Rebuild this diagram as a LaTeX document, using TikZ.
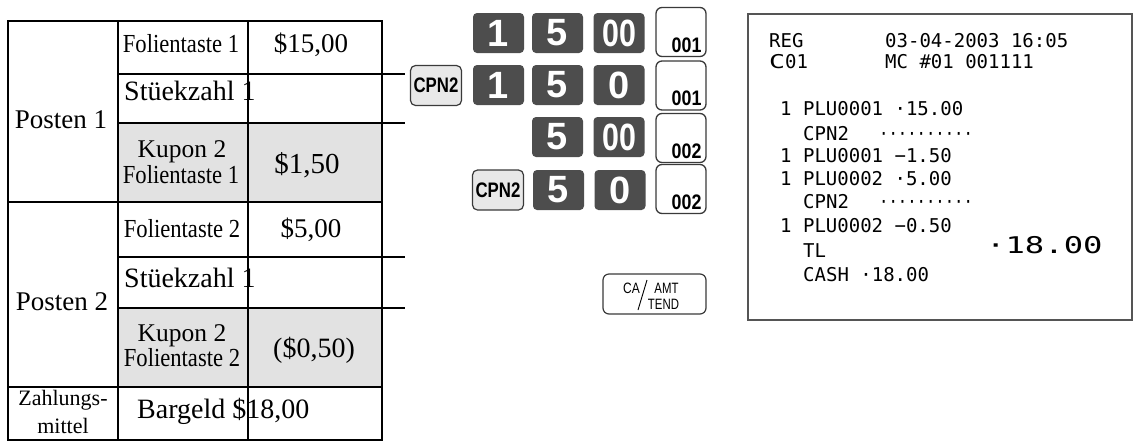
\documentclass[tikz,border=0pt]{standalone}
\usepackage{fontspec}
\setmainfont{Liberation Serif}
\newfontfamily\condserif{Liberation Serif}[FakeStretch=0.87]
\newfontfamily\keyfont{Liberation Sans}
\newfontfamily\rcptfont{DejaVu Sans Mono}
\newfontfamily\widefont{DejaVu Sans Mono}[FakeStretch=1.4]
\newcommand\fsz[1]{\fontsize{#1}{#1}\selectfont}
\definecolor{keydark}{HTML}{4D4D4D}
\definecolor{cpngray}{HTML}{E8E8E8}
\definecolor{cellgray}{HTML}{E2E2E2}
\definecolor{keyline}{HTML}{3A3A3A}
\definecolor{rgray}{HTML}{555555}
\begin{document}
\begin{tikzpicture}[x=1pt,y=-1pt,
  tab/.style={line width=1.3pt},
  outer/.style={line width=2pt},
  cell/.style={inner sep=0pt, anchor=base},
  digitkey/.style={fill=keydark, rounded corners=4pt, minimum width=51pt, minimum height=40pt, inner sep=0pt, text=white, font=\keyfont\bfseries\fsz{38}},
  cpnkey/.style={fill=cpngray, draw=keyline, line width=1.2pt, rounded corners=5pt, minimum width=51pt, minimum height=40pt, inner sep=0pt, font=\keyfont\bfseries\fsz{21}},
  slip/.style={draw=keyline, line width=1.3pt, rounded corners=6pt, minimum width=50pt, minimum height=49pt, inner sep=0pt, fill=white},
  slipno/.style={anchor=base east, inner sep=0pt, xshift=-5pt, yshift=5pt, font=\keyfont\bfseries\fsz{21}},
  catext/.style={anchor=base, inner sep=0pt, font=\keyfont\fsz{15}},
  rc/.style={anchor=base west, inner sep=0pt, font=\rcptfont\fsz{19}}
]
\useasboundingbox (0,0) rectangle (1134,445);
% ---------- table ----------
\fill[cellgray] (118,123) rectangle (382,202);
\fill[cellgray] (118,308) rectangle (382,387);
\draw[tab] (118,21) -- (118,440);
\draw[tab] (248,21) -- (248,440);
\coordinate (e1) at (405,74);
\coordinate (e2) at (405,123);
\coordinate (e3) at (405,257);
\coordinate (e4) at (405,308);
\draw[tab] (118,74) -- (e1);
\draw[tab] (118,123) -- (e2);
\draw[tab] (8,202) -- (382,202);
\draw[tab] (118,257) -- (e3);
\draw[tab] (118,308) -- (e4);
\draw[tab] (8,387) -- (382,387);
\draw[outer] (8,21) rectangle (382,440);

\node[cell, font=\fsz{27}] (p1) at (61,128) {Posten 1};
\node[cell, font=\condserif\fsz{26}] (f1) at (181,52) {Folientaste 1};
\node[cell, font=\fsz{27}] (a1) at (311,52) {\$15,00};
\node[cell, anchor=base west, font=\fsz{28}] (s1) at (124,100) {Stüekzahl 1};
\node[cell, font=\fsz{25.5}] (k1) at (182,157) {Kupon 2};
\node[cell, font=\condserif\fsz{26}] (k1b) at (181,183) {Folientaste 1};
\node[cell, font=\fsz{29}] (a2) at (307,173) {\$1,50};
\node[cell, font=\fsz{27}] (p2) at (62,310) {Posten 2};
\node[cell, font=\condserif\fsz{26}] (f2) at (182,237) {Folientaste 2};
\node[cell, font=\fsz{27}] (a3) at (311,237) {\$5,00};
\node[cell, anchor=base west, font=\fsz{28}] (s2) at (124,287) {Stüekzahl 1};
\node[cell, font=\fsz{25.5}] (k2) at (182,341) {Kupon 2};
\node[cell, font=\condserif\fsz{26}] (k2b) at (182,366) {Folientaste 2};
\node[cell, font=\fsz{28}] (a4) at (314,357) {(\$0,50)};
\node[cell, font=\fsz{22}] (z1) at (63,405) {Zahlungs-};
\node[cell, font=\fsz{22}] (z2) at (63,433) {mittel};
\node[cell, anchor=base west, font=\fsz{28}] (bg) at (137,418) {Bargeld \$18,00};

% ---------- keys ----------
\node[digitkey] (r1a) at (498.5,33) {1};
\node[digitkey] (r1b) at (557.5,33) {5};
\node[digitkey] (r1c) at (619,33) {\scalebox{0.8}[1]{00}};
\node[slip] (b1) at (681,32) {};
\node[slipno] (n1) at (b1.south east) {\scalebox{0.85}[1]{001}};

\node[cpnkey] (r2c) at (436,85.5) {\scalebox{0.8}[1]{CPN2}};
\node[digitkey] (r2a) at (498.5,85) {1};
\node[digitkey] (r2b) at (557.5,85) {5};
\node[digitkey] (r2d) at (619,85) {0};
\node[slip] (b2) at (681,85.5) {};
\node[slipno] (n2) at (b2.south east) {\scalebox{0.85}[1]{001}};

\node[digitkey] (r3b) at (557.5,137) {5};
\node[digitkey] (r3c) at (619,137) {\scalebox{0.8}[1]{00}};
\node[slip] (b3) at (681,138) {};
\node[slipno] (n3) at (b3.south east) {\scalebox{0.85}[1]{002}};

\node[cpnkey] (r4c) at (498,190) {\scalebox{0.8}[1]{CPN2}};
\node[digitkey] (r4b) at (558.5,190) {5};
\node[digitkey] (r4d) at (620,190) {0};
\node[slip] (b4) at (681,189) {};
\node[slipno] (n4) at (b4.south east) {\scalebox{0.85}[1]{002}};

\node[draw=keyline, line width=1.2pt, rounded corners=6pt, minimum width=103pt, minimum height=40pt, inner sep=0pt, fill=white] (ca) at (654.5,294) {};
\node[catext] (ca1) at (631.5,293) {\scalebox{0.8}[1]{CA}};
\node[catext] (ca2) at (666.5,293) {\scalebox{0.76}[1]{AMT}};
\node[catext] (ca3) at (663.5,309) {\scalebox{0.76}[1]{TEND}};
\draw[line width=0.9pt] (647,280) -- (638,310);

% ---------- receipt ----------
\node[draw=rgray, line width=1.3pt, minimum width=384pt, minimum height=306pt, inner sep=0pt] (rcpt) at (940,167) {};
\node[rc] (l1a) at (769,47) {REG};
\node[rc] (l1b) at (885,47) {03-04-2003 16:05};
\node[rc] (l2a) at (769,68) {{\widefont C}01};
\node[rc] (l2b) at (885,68) {MC \#01 001111};
\node[rc] (l3) at (780,115) {1 PLU0001 ·15.00};
\node[rc] (l4) at (803,140) {CPN2};
\node[rc] (l4d) at (879,140) {\scalebox{0.82}[1]{··········}};
\node[rc] (l5) at (780,162) {1 PLU0001 −1.50};
\node[rc] (l6) at (780,185) {1 PLU0002 ·5.00};
\node[rc] (l7) at (803,208) {CPN2};
\node[rc] (l7d) at (879,208) {\scalebox{0.82}[1]{··········}};
\node[rc] (l8) at (780,232) {1 PLU0002 −0.50};
\node[rc] (l9) at (803,257) {TL};
\node[rc, font=\widefont\fsz{23}] (l9b) at (986,253) {·18.00};
\node[rc] (l10) at (803,281) {CASH ·18.00};
\end{tikzpicture}
\end{document}
